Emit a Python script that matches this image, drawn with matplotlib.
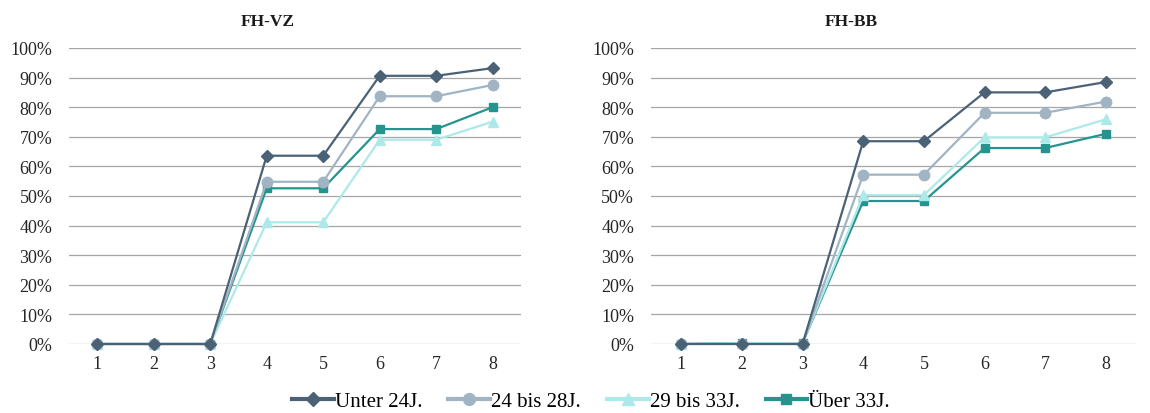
import matplotlib
matplotlib.use('Agg')
import matplotlib.pyplot as plt
from matplotlib.lines import Line2D
from matplotlib.ticker import PercentFormatter

plt.rcParams['font.family'] = ['Liberation Serif', 'DejaVu Serif']

semester = [1, 2, 3, 4, 5, 6, 7, 8]
gruppen = ['Unter 24J.', '24 bis 28J.', '29 bis 33J.', 'Über 33J.']

# FH-VZ
vz_unter24 = [0, 0, 0, 63.6, 63.6, 90.6, 90.6, 93.2]
vz_24_28 = [0, 0, 0, 54.8, 54.8, 83.7, 83.7, 87.5]
vz_29_33 = [0, 0, 0, 41.1, 41.1, 69.0, 69.0, 75.1]
vz_ueber33 = [0, 0, 0, 52.6, 52.6, 72.6, 72.6, 80.0]

# FH-BB
bb_unter24 = [0, 0, 0, 68.5, 68.5, 85.0, 85.0, 88.5]
bb_24_28 = [0, 0, 0, 57.2, 57.2, 78.1, 78.1, 81.9]
bb_29_33 = [0, 0.3, 0.3, 50.3, 50.3, 69.8, 69.8, 75.9]
bb_ueber33 = [0, 0.3, 0.3, 48.3, 48.3, 66.2, 66.2, 71.0]

farben = ['#4B6176', '#A1B4C3', '#AEE9E9', '#25948F']
marker = ['D', 'o', '^', 's']
msize = [6, 7.5, 7.5, 5.5]

fig = plt.figure(figsize=(11.5, 4.14), dpi=100)
ax1 = fig.add_axes([0.060, 0.1667, 0.393, 0.715])
ax2 = fig.add_axes([0.566, 0.1667, 0.422, 0.715])

paneele = [
    (ax1, 'FH-VZ', 268 / 1150, [vz_unter24, vz_24_28, vz_29_33, vz_ueber33]),
    (ax2, 'FH-BB', 851 / 1150, [bb_unter24, bb_24_28, bb_29_33, bb_ueber33]),
]

for ax, titel, tx, reihen in paneele:
    for i, werte in enumerate(reihen):
        ax.plot(semester, werte, color=farben[i], marker=marker[i], markersize=msize[i],
                linewidth=1.6, label=gruppen[i], clip_on=False, zorder=3 + (3 - i) * 0.1)
    ax.set_xlim(0.5, 8.5)
    ax.set_ylim(0, 100)
    ax.set_yticks(range(0, 101, 10))
    ax.yaxis.set_major_formatter(PercentFormatter(decimals=0))
    ax.set_xticks(semester)
    ax.grid(axis='y', color='#A6A6A6', linewidth=0.9)
    ax.set_axisbelow(True)
    for s in ax.spines.values():
        s.set_visible(False)
    ax.tick_params(length=0, labelsize=13, colors='#262626')
    ax.tick_params(axis='x', pad=8)
    ax.tick_params(axis='y', pad=12)
    fig.text(tx, 1 - 22 / 414, titel, ha='center', va='center', fontsize=12.5,
             fontweight='bold', color='#1a1a1a')

handles = [Line2D([], [], color=farben[i], marker=marker[i], markersize=msize[i] + 1,
                  linewidth=3) for i in range(4)]
fig.legend(handles, gruppen, loc='center', bbox_to_anchor=(0.514, 0.028), ncol=4,
           frameon=False, fontsize=15, handlelength=2.0, handletextpad=0.05,
           columnspacing=1.25, borderaxespad=0)

fig.savefig('out.png', dpi=100)
